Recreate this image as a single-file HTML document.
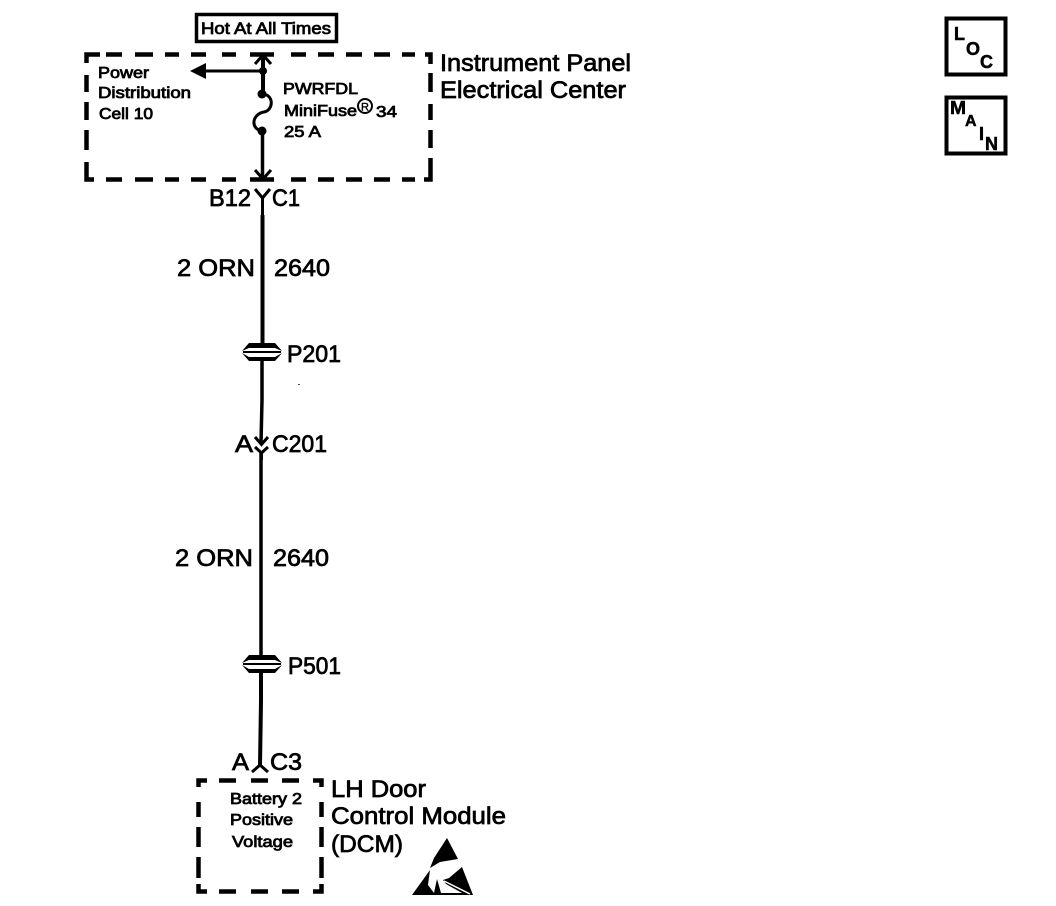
<!DOCTYPE html>
<html>
<head>
<meta charset="utf-8">
<style>
html,body{margin:0;padding:0;background:#fff;}
svg{display:block;}
text{font-family:"Liberation Sans",sans-serif;fill:#000;stroke:#000;}
.s{font-size:16px;stroke-width:.8px;}
.m{font-size:24px;stroke-width:.75px;}
.b{font-size:18px;font-weight:bold;stroke-width:.5px;}
</style>
</head>
<body>
<svg width="1056" height="906" viewBox="0 0 1056 906" xmlns="http://www.w3.org/2000/svg">
<rect width="1056" height="906" fill="#fff" stroke="none"/>
<!-- Hot box -->
<rect x="196.500" y="14.500" width="140" height="27" fill="none" stroke="#000" stroke-width="3.500"/>
<text x="201" y="34" class="s" style="font-size:17px" textLength="130" lengthAdjust="spacingAndGlyphs">Hot At All Times</text>
<!-- dashed IPEC -->
<g fill="none" stroke="#000" stroke-width="4.500">
<path d="M100 54.500H86.500V63"/>
<path d="M106 54.500H122M135 54.500H153M165 54.500H179M191 54.500H206M222 54.500H236M250 54.500H274M291 54.500H306M318 54.500H334M346 54.500H362M374 54.500H390M402 54.500H415"/>
<path d="M425 54.500H430.500V64M430.500 73V92M430.500 104V120M430.500 130V148M430.500 158V179.500H424"/>
<path d="M86.500 75V92M86.500 102V120M86.500 130V150M86.500 162V179.500H94"/>
<path d="M106 179.500H122M135 179.500H153M165 179.500H179M191 179.500H206M222 179.500H236M250 179.500H274M291 179.500H306M318 179.500H334M346 179.500H362M374 179.500H390M402 179.500H415"/>
</g>
<!-- wires -->
<path d="M263 55V96" fill="none" stroke="#000" stroke-width="4"/>
<path d="M255 64L263 55L271 64" fill="none" stroke="#000" stroke-width="3"/>
<path d="M263 71H204" fill="none" stroke="#000" stroke-width="3"/>
<path d="M190 71L206 63V79Z" fill="#000"/>
<circle cx="263" cy="71" r="4" fill="#000"/>
<circle cx="262" cy="94" r="4.500" fill="#000"/>
<circle cx="262" cy="131" r="4.500" fill="#000"/>
<path d="M262 94C274 94 274 110 264 112C252 114 250 129 262 131" fill="none" stroke="#000" stroke-width="3"/>
<path d="M262.500 131V178" fill="none" stroke="#000" stroke-width="3.500"/>
<path d="M255 170L263 179L271 170" fill="none" stroke="#000" stroke-width="3"/>
<!-- C1 connector -->
<path d="M255 189L262.500 198L270 189M262.500 198V342" fill="none" stroke="#000" stroke-width="3"/>
<path d="M262.500 215V345" fill="none" stroke="#000" stroke-width="4"/>
<text x="209" y="206" class="m" textLength="42" lengthAdjust="spacingAndGlyphs">B12</text>
<text x="272" y="206" class="m" textLength="28" lengthAdjust="spacingAndGlyphs">C1</text>
<text x="177" y="276" class="m" textLength="78" lengthAdjust="spacingAndGlyphs">2 ORN</text>
<text x="274" y="276" class="m" textLength="56" lengthAdjust="spacingAndGlyphs">2640</text>
<!-- P201 -->
<path d="M242 351L249 343H275L282 351L275 348H249Z" fill="#000"/>
<path d="M242 353L249 361H275L282 353L275 357H249Z" fill="#000"/>
<path d="M243 352H281" stroke="#000" stroke-width="2" fill="none"/>
<rect x="254" y="349" width="16" height="1.500" fill="#fff"/>
<rect x="254" y="353.500" width="16" height="1.500" fill="#fff"/>
<text x="287" y="362" class="m" textLength="54" lengthAdjust="spacingAndGlyphs">P201</text>
<rect x="298" y="384" width="2" height="1" fill="#555"/>
<path d="M262 360V400L261 443" fill="none" stroke="#000" stroke-width="3.500"/>
<!-- C201 -->
<path d="M255 437L261.500 444.500L268 437M255 447L261.500 453L268 447M261.500 453V460" fill="none" stroke="#000" stroke-width="3"/>
<text x="235" y="452" class="m" textLength="18" lengthAdjust="spacingAndGlyphs">A</text>
<text x="272" y="452" class="m" textLength="55" lengthAdjust="spacingAndGlyphs">C201</text>
<path d="M261 453V655" fill="none" stroke="#000" stroke-width="3.500"/>
<text x="175" y="566" class="m" textLength="78" lengthAdjust="spacingAndGlyphs">2 ORN</text>
<text x="273" y="566" class="m" textLength="56" lengthAdjust="spacingAndGlyphs">2640</text>
<!-- P501 -->
<path d="M242 663L249 655H275L282 663L275 660H249Z" fill="#000"/>
<path d="M242 665L249 673H275L282 665L275 669H249Z" fill="#000"/>
<path d="M243 664H281" stroke="#000" stroke-width="2" fill="none"/>
<rect x="254" y="661" width="16" height="1.500" fill="#fff"/>
<text x="288" y="674" class="m" textLength="53" lengthAdjust="spacingAndGlyphs">P501</text>
<path d="M261 672V700L260 766" fill="none" stroke="#000" stroke-width="4"/>
<!-- C3 -->
<path d="M252 772L260 765L268 772" fill="none" stroke="#000" stroke-width="3"/>
<text x="232" y="770" class="m" textLength="17" lengthAdjust="spacingAndGlyphs">A</text>
<text x="270" y="770" class="m" textLength="32" lengthAdjust="spacingAndGlyphs">C3</text>
<!-- DCM dashed -->
<g fill="none" stroke="#000" stroke-width="4.500">
<path d="M207 780.500H198.500V787M219 780.500H236M251 780.500H268M282 780.500H299M313 780.500H321.500V787"/>
<path d="M198.500 802V817M198.500 827V847M198.500 857V878"/>
<path d="M321.500 802V817M321.500 827V847M321.500 857V878"/>
<path d="M198.500 884V891.500H207M219 891.500H236M251 891.500H268M282 891.500H299M313 891.500H321.500V884"/>
</g>
<!-- small labels -->
<text x="98" y="78" class="s" textLength="51" lengthAdjust="spacingAndGlyphs">Power</text>
<text x="98" y="98" class="s" textLength="93" lengthAdjust="spacingAndGlyphs">Distribution</text>
<text x="99" y="119" class="s" textLength="54" lengthAdjust="spacingAndGlyphs">Cell 10</text>
<text x="283" y="94" class="s" textLength="75" lengthAdjust="spacingAndGlyphs">PWRFDL</text>
<text x="284" y="116" class="s" textLength="73" lengthAdjust="spacingAndGlyphs">MiniFuse</text>
<circle cx="365" cy="106" r="7" fill="none" stroke="#000" stroke-width="2"/>
<text x="361" y="110.500" style="font-size:11px;stroke-width:.4px">R</text>
<text x="376" y="117" class="s" textLength="21" lengthAdjust="spacingAndGlyphs">34</text>
<text x="284" y="137" class="s" textLength="37" lengthAdjust="spacingAndGlyphs">25 A</text>
<text x="440" y="71" class="m" textLength="191" lengthAdjust="spacingAndGlyphs">Instrument Panel</text>
<text x="440" y="98" class="m" textLength="186" lengthAdjust="spacingAndGlyphs">Electrical Center</text>
<text x="230" y="804" class="s" textLength="72" lengthAdjust="spacingAndGlyphs">Battery 2</text>
<text x="230" y="825" class="s" textLength="63" lengthAdjust="spacingAndGlyphs">Positive</text>
<text x="232" y="847" class="s" textLength="61" lengthAdjust="spacingAndGlyphs">Voltage</text>
<text x="331" y="797" class="m" textLength="95" lengthAdjust="spacingAndGlyphs">LH Door</text>
<text x="331" y="824" class="m" textLength="175" lengthAdjust="spacingAndGlyphs">Control Module</text>
<text x="331" y="852" class="m" textLength="72" lengthAdjust="spacingAndGlyphs">(DCM)</text>
<!-- ESD symbol -->
<path d="M447 838L458 859L440 862L430 868L434 858Z" fill="#000"/>
<path d="M462 867L473 895H412L430 870L428 885L434 893L437 879L441 893H462L446 884L443 880L449 878Z" fill="#000"/>
<path d="M444 881L470 894" stroke="#fff" stroke-width="1.500" fill="none"/>
<!-- LOC -->
<rect x="946.500" y="18.500" width="59" height="56" fill="none" stroke="#000" stroke-width="4"/>
<text x="954" y="40" class="b">L</text>
<text x="966" y="55" class="b">O</text>
<text x="980" y="68" class="b">C</text>
<!-- MAIN -->
<rect x="946.500" y="97.500" width="59" height="56" fill="none" stroke="#000" stroke-width="4"/>
<text x="950" y="114" class="b" textLength="16" lengthAdjust="spacingAndGlyphs">M</text>
<text x="965" y="126" class="b" style="font-size:16px">A</text>
<text x="979" y="140" class="b">I</text>
<text x="985" y="150" class="b">N</text>
</svg>
</body>
</html>
